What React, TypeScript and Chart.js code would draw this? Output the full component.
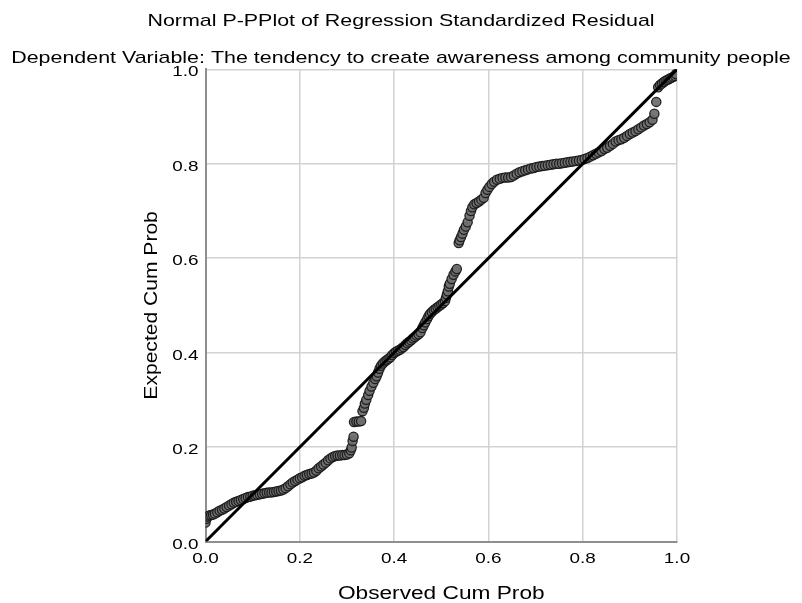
import React, { useEffect, useRef } from "react";
import { Chart, registerables } from "chart.js";

Chart.register(...registerables);

const titleText = "Normal P-PPlot of Regression Standardized Residual";
const subtitleText = "Dependent Variable: The tendency to create awareness among community people";
const xAxisTitle = "Observed Cum Prob";
const yAxisTitle = "Expected Cum Prob";

const observedCumProb = [
  0.000, 0.002, 0.004, 0.008, 0.012, 0.016, 0.020, 0.025, 0.030, 0.035, 0.040, 0.045, 0.050, 0.055, 0.060, 0.065,
  0.070, 0.075, 0.080, 0.085, 0.090, 0.095, 0.100, 0.105, 0.110, 0.115, 0.120, 0.125, 0.130, 0.135, 0.140, 0.145,
  0.150, 0.155, 0.160, 0.165, 0.170, 0.175, 0.180, 0.185, 0.190, 0.195, 0.200, 0.205, 0.210, 0.215, 0.220, 0.225,
  0.230, 0.235, 0.240, 0.245, 0.250, 0.255, 0.260, 0.265, 0.270, 0.275, 0.280, 0.285, 0.290, 0.295, 0.300, 0.305,
  0.308, 0.310, 0.312, 0.314, 0.315, 0.320, 0.325, 0.330, 0.333, 0.336, 0.338, 0.341, 0.345, 0.348, 0.352, 0.356,
  0.360, 0.363, 0.366, 0.369, 0.372, 0.376, 0.380, 0.384, 0.388, 0.392, 0.396, 0.400, 0.404, 0.408, 0.412, 0.416,
  0.420, 0.424, 0.428, 0.432, 0.436, 0.440, 0.444, 0.448, 0.452, 0.456, 0.460, 0.463, 0.466, 0.470, 0.473, 0.476,
  0.480, 0.484, 0.488, 0.492, 0.496, 0.500, 0.504, 0.508, 0.510, 0.512, 0.514, 0.516, 0.518, 0.522, 0.526, 0.530,
  0.533, 0.537, 0.539, 0.542, 0.545, 0.548, 0.552, 0.556, 0.560, 0.563, 0.566, 0.570, 0.575, 0.580, 0.585, 0.590,
  0.594, 0.598, 0.602, 0.607, 0.612, 0.618, 0.624, 0.630, 0.636, 0.642, 0.648, 0.654, 0.660, 0.666, 0.672, 0.678,
  0.684, 0.690, 0.696, 0.702, 0.708, 0.714, 0.720, 0.726, 0.732, 0.738, 0.744, 0.750, 0.756, 0.762, 0.768, 0.774,
  0.780, 0.786, 0.792, 0.798, 0.804, 0.810, 0.816, 0.822, 0.828, 0.834, 0.840, 0.846, 0.852, 0.858, 0.864, 0.870,
  0.876, 0.882, 0.888, 0.894, 0.900, 0.906, 0.912, 0.918, 0.924, 0.930, 0.936, 0.942, 0.948, 0.952, 0.956, 0.960,
  0.964, 0.968, 0.972, 0.976, 0.980, 0.984, 0.988, 0.992, 0.996, 0.998,
];

const expectedCumProb = [
  0.040, 0.048, 0.053, 0.055, 0.056, 0.057, 0.059, 0.062, 0.065, 0.067, 0.070, 0.073, 0.076, 0.079, 0.082, 0.084,
  0.086, 0.088, 0.090, 0.092, 0.094, 0.095, 0.097, 0.098, 0.099, 0.100, 0.101, 0.102, 0.103, 0.104, 0.104, 0.105,
  0.106, 0.107, 0.108, 0.110, 0.113, 0.117, 0.121, 0.125, 0.128, 0.131, 0.134, 0.136, 0.139, 0.141, 0.143, 0.144,
  0.146, 0.150, 0.155, 0.159, 0.163, 0.167, 0.172, 0.176, 0.179, 0.181, 0.182, 0.182, 0.183, 0.183, 0.184, 0.187,
  0.193, 0.199, 0.213, 0.222, 0.253, 0.254, 0.254, 0.255, 0.276, 0.283, 0.292, 0.300, 0.310, 0.319, 0.328, 0.336,
  0.344, 0.350, 0.358, 0.366, 0.372, 0.377, 0.381, 0.384, 0.387, 0.390, 0.395, 0.399, 0.402, 0.404, 0.406, 0.409,
  0.412, 0.416, 0.420, 0.423, 0.426, 0.430, 0.433, 0.436, 0.439, 0.443, 0.452, 0.458, 0.464, 0.471, 0.477, 0.482,
  0.486, 0.490, 0.493, 0.496, 0.499, 0.502, 0.505, 0.509, 0.516, 0.523, 0.530, 0.540, 0.546, 0.556, 0.565, 0.572,
  0.577, 0.632, 0.638, 0.645, 0.652, 0.660, 0.667, 0.676, 0.690, 0.700, 0.708, 0.714, 0.717, 0.720, 0.724, 0.728,
  0.738, 0.745, 0.751, 0.757, 0.762, 0.766, 0.768, 0.770, 0.771, 0.771, 0.772, 0.775, 0.779, 0.782, 0.784, 0.786,
  0.788, 0.790, 0.791, 0.793, 0.794, 0.795, 0.796, 0.797, 0.798, 0.799, 0.800, 0.800, 0.801, 0.802, 0.803, 0.804,
  0.805, 0.806, 0.807, 0.808, 0.810, 0.812, 0.815, 0.818, 0.821, 0.824, 0.827, 0.831, 0.834, 0.838, 0.842, 0.847,
  0.850, 0.852, 0.855, 0.859, 0.863, 0.866, 0.869, 0.873, 0.877, 0.881, 0.884, 0.888, 0.893, 0.906, 0.931, 0.962,
  0.967, 0.970, 0.973, 0.976, 0.978, 0.980, 0.982, 0.984, 0.986, 0.990,
];

const referenceLineX = [0, 1];
const referenceLineY = [0, 1];
const tickValues = [0, 0.2, 0.4, 0.6, 0.8, 1.0];

const FONT = "'Liberation Sans', Arial, sans-serif";

export default function App() {
  const canvasRef = useRef<HTMLCanvasElement | null>(null);

  useEffect(() => {
    document.body.style.margin = "0";
    const canvas = canvasRef.current;
    if (!canvas) return;

    // The reference text is drawn wider than it is tall: stretch glyphs horizontally.
    const ctx = canvas.getContext("2d") as CanvasRenderingContext2D;
    const origFill = ctx.fillText;
    (ctx as any).fillText = function (text: string, x: number, y: number) {
      const t = this.getTransform();
      const rotated = Math.abs(t.b) > 0.01;
      const sx = rotated ? 1.17 : 1.26;
      this.save();
      this.translate(x, y);
      this.scale(sx, 1);
      origFill.call(this, text, 0, 0);
      this.restore();
    };

    const points = observedCumProb.map((x, i) => ({ x, y: expectedCumProb[i] }));
    const linePts = referenceLineX.map((x, i) => ({ x, y: referenceLineY[i] }));

    const chart = new Chart(canvas, {
      type: "scatter",
      data: {
        datasets: [
          {
            type: "line",
            data: linePts,
            borderColor: "#000000",
            borderWidth: 3,
            pointRadius: 0,
            fill: false,
          } as any,
          {
            data: points,
            backgroundColor: "rgba(112,112,112,0.95)",
            borderColor: "rgba(25,25,25,0.95)",
            borderWidth: 1.3,
            pointRadius: 4.6,
          },
        ],
      },
      options: {
        responsive: false,
        animation: false,
        layout: { padding: { left: 0, right: 0, top: 0, bottom: 0 } },
        plugins: {
          legend: { display: false },
          tooltip: { enabled: false },
          title: {
            display: true,
            text: titleText,
            color: "#000",
            font: { family: FONT, size: 17, weight: "normal" },
            padding: { top: 11, bottom: 8 },
          },
          subtitle: {
            display: true,
            text: subtitleText,
            color: "#000",
            font: { family: FONT, size: 17, weight: "normal" },
            padding: { top: 9, bottom: 0.5 },
          },
        },
        scales: {
          x: {
            type: "linear",
            min: 0,
            max: 1,
            afterBuildTicks: (scale: any) => {
              scale.ticks = tickValues.map((v) => ({ value: v }));
            },
            afterFit: (scale: any) => {
              scale.height = 61.5;
            },
            ticks: {
              color: "#000",
              font: { family: FONT, size: 15 },
              padding: 8,
              callback: (v: any) => Number(v).toFixed(1),
            },
            grid: { color: "#d2d2d2", lineWidth: 1.5, drawTicks: false },
            border: { color: "#8f8f8f", width: 2 },
            title: {
              display: true,
              text: xAxisTitle,
              color: "#000",
              font: { family: FONT, size: 18, lineHeight: 1 },
              padding: { top: 0, bottom: 0 },
            },
          },
          y: {
            type: "linear",
            min: 0,
            max: 1,
            afterBuildTicks: (scale: any) => {
              scale.ticks = tickValues.map((v) => ({ value: v }));
            },
            afterFit: (scale: any) => {
              scale.width = 205.5;
            },
            ticks: {
              color: "#000",
              font: { family: FONT, size: 15 },
              padding: 7,
              labelOffset: 3,
              callback: (v: any) => Number(v).toFixed(1),
            },
            grid: { color: "#d2d2d2", lineWidth: 1.5, drawTicks: false },
            border: { color: "#8f8f8f", width: 2 },
            title: {
              display: true,
              text: yAxisTitle,
              color: "#000",
              font: { family: FONT, size: 18 },
              padding: { top: 141, bottom: 0 },
            },
          },
          yRightSpace: {
            type: "linear",
            position: "right",
            min: 0,
            max: 1,
            afterFit: (scale: any) => {
              scale.width = 125;
            },
            ticks: { display: false },
            grid: { display: false, drawTicks: false },
            border: { display: false },
            title: { display: false },
          },
        },
      },
    });

    return () => {
      chart.destroy();
      (ctx as any).fillText = origFill;
    };
  }, []);

  return (
    <div style={{ width: 802, height: 603 }}>
      <canvas ref={canvasRef} width={802} height={603} style={{ display: "block" }} />
    </div>
  );
}
